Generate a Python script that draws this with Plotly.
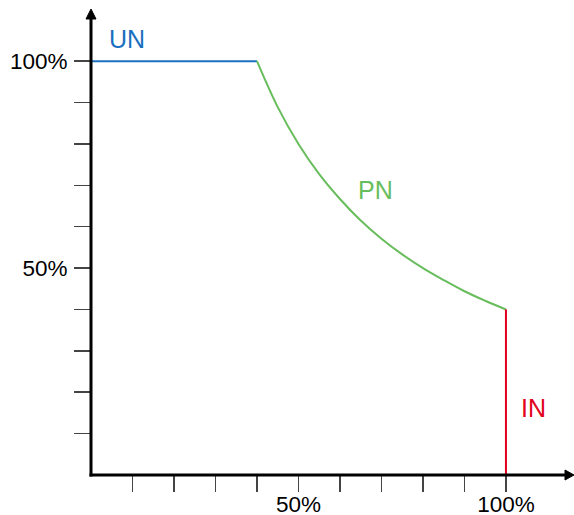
import plotly.graph_objects as go

# Data (percent of nominal)
un_x = [0, 40]
un_y = [100, 100]
pn_x = [40, 45, 50, 55, 60, 65, 70, 75, 80, 85, 90, 95, 100]
pn_y = [100, 88.9, 80, 72.7, 66.7, 61.5, 57.1, 53.3, 50, 47.1, 44.4, 42.1, 40]
in_x = [100, 100]
in_y = [0, 40]
tick_vals = [10, 20, 30, 40, 50, 60, 70, 80, 90, 100]
tick_text = ["", "", "", "", "50%", "", "", "", "", "100%"]

BLUE = "#1a6fbf"
GREEN = "#68bd5c"
RED = "#e2001a"
FONT = "Liberation Sans, Arial, sans-serif"

W, H = 574, 515
ML, MR, MT, MB = 91, 0, 9, 40
PW, PH = W - ML - MR, H - MT - MB

fig = go.Figure()
fig.add_trace(go.Scatter(x=un_x, y=un_y, mode="lines", line=dict(color=BLUE, width=2), hoverinfo="skip"))
fig.add_trace(go.Scatter(x=pn_x, y=pn_y, mode="lines", line=dict(color=GREEN, width=2, shape="spline"), hoverinfo="skip"))
fig.add_trace(go.Scatter(x=in_x, y=in_y, mode="lines", line=dict(color=RED, width=2), hoverinfo="skip"))

XMAX = 116.4
YMAX = 112.6

# axis lines with arrowheads, in paper coordinates (not clipped)
px = 1.0 / PW  # one pixel in paper x
py = 1.0 / PH  # one pixel in paper y
fig.add_shape(type="line", xref="paper", yref="paper", x0=-1.5 * px, y0=0, x1=1 - 5 * px, y1=0,
              line=dict(color="black", width=3), layer="above")
fig.add_shape(type="line", xref="paper", yref="paper", x0=0, y0=-1.5 * py, x1=0, y1=1 - 7 * py,
              line=dict(color="black", width=3), layer="above")
fig.add_shape(type="path", xref="paper", yref="paper",
              path=f"M {1-9*px},{-5*py} L 1,0 L {1-9*px},{5*py} Z",
              fillcolor="black", line=dict(color="black", width=1), layer="above")
fig.add_shape(type="path", xref="paper", yref="paper",
              path=f"M {-5*px},{1-10*py} L 0,1 L {5*px},{1-10*py} Z",
              fillcolor="black", line=dict(color="black", width=1), layer="above")

fig.add_annotation(x=8.7, y=105.3, text="UN", showarrow=False, font=dict(color=BLUE, size=25, family=FONT))
fig.add_annotation(x=68.5, y=68.8, text="PN", showarrow=False, font=dict(color=GREEN, size=25, family=FONT))
fig.add_annotation(x=106.7, y=16.3, text="IN", showarrow=False, font=dict(color=RED, size=25, family=FONT))

axis_common = dict(showgrid=False, zeroline=False, showline=False, ticks="outside", ticklen=16,
                   tickwidth=1.5, tickcolor="#444", tickvals=tick_vals, ticktext=tick_text,
                   tickfont=dict(size=22.5, color="black", family=FONT), fixedrange=True,
                   automargin=False)
fig.update_xaxes(range=[0, XMAX], ticklabelstandoff=-7, **axis_common)
fig.update_yaxes(range=[0, YMAX], ticklabelstandoff=2, **axis_common)

fig.update_layout(width=W, height=H, margin=dict(l=ML, r=MR, t=MT, b=MB),
                  paper_bgcolor="white", plot_bgcolor="white", showlegend=False,
                  hovermode=False)

fig.write_html("out.html", config={"displayModeBar": False, "staticPlot": True},
               post_script="document.body.style.margin='0';document.body.style.overflow='hidden';")
